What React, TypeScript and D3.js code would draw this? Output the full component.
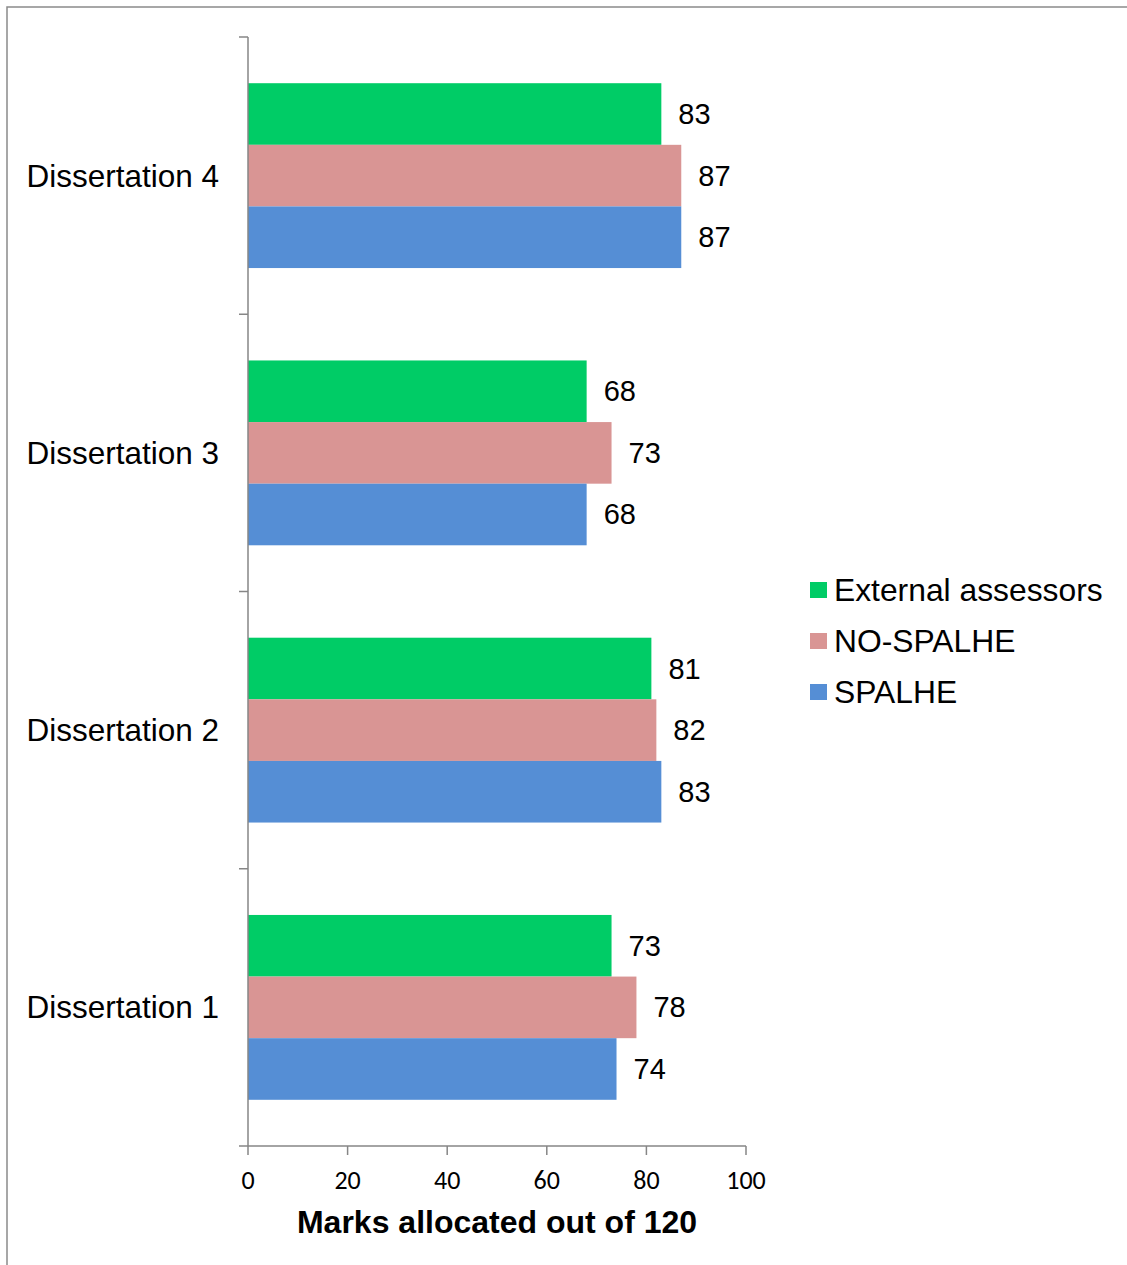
import React from "react";
import * as d3 from "d3";

const categories = ["Dissertation 4", "Dissertation 3", "Dissertation 2", "Dissertation 1"];
const seriesNames = ["External assessors", "NO-SPALHE", "SPALHE"];
const externalValues = [83, 68, 81, 73];
const noSpalheValues = [87, 73, 82, 78];
const spalheValues = [87, 68, 83, 74];
const xTicks = [0, 20, 40, 60, 80, 100];
const axisTitle = "Marks allocated out of 120";

const colors = ["#00CC66", "#D99594", "#558ED5"];

export default function App() {
  const W = 1127, H = 1265;
  const plotLeft = 248, plotRight = 746, plotTop = 37, plotBottom = 1146;
  const x = d3.scaleLinear().domain([0, 100]).range([plotLeft, plotRight]);
  const y = d3.scaleBand<string>().domain(categories).range([plotTop, plotBottom]).paddingInner(1 / 3).paddingOuter(1 / 6);
  const ySub = d3.scaleBand<string>().domain(seriesNames).range([0, y.bandwidth()]);
  const series = [externalValues, noSpalheValues, spalheValues];
  const step = y.step();
  const boundaries = d3.range(categories.length + 1).map((i) => plotTop + i * step);
  const axisColor = "#868686";
  const font = "'Liberation Sans', Arial, sans-serif";
  const tickFont = "Carlito, Lato, 'Open Sans', sans-serif";

  return (
    <svg width={W} height={H} style={{ position: "absolute", left: 0, top: 0, background: "#fff" }}>
      <rect x={7} y={7} width={W + 20} height={H + 20} fill="#fff" stroke="#8a8a8a" strokeWidth={1.5} />
      {categories.map((c, ci) =>
        series.map((vals, si) => (
          <g key={c + si}>
            <rect
              x={x(0)}
              y={(y(c) as number) + (ySub(seriesNames[si]) as number)}
              width={x(vals[ci]) - x(0)}
              height={ySub.bandwidth()}
              fill={colors[si]}
            />
            <text
              x={x(vals[ci]) + 17}
              y={(y(c) as number) + (ySub(seriesNames[si]) as number) + ySub.bandwidth() / 2}
              dominantBaseline="central"
              fontFamily={font}
              fontSize={29}
              fill="#000"
            >
              {vals[ci]}
            </text>
          </g>
        ))
      )}
      {/* y axis */}
      <line x1={plotLeft} x2={plotLeft} y1={plotTop} y2={plotBottom} stroke={axisColor} strokeWidth={1.5} />
      {boundaries.map((b, i) => (
        <line key={"yt" + i} x1={plotLeft - 9} x2={plotLeft} y1={b} y2={b} stroke={axisColor} strokeWidth={1.5} />
      ))}
      {categories.map((c) => (
        <text
          key={"cl" + c}
          x={219}
          y={(y(c) as number) + y.bandwidth() / 2}
          textAnchor="end"
          dominantBaseline="central"
          fontFamily={font}
          fontSize={31.5}
          fill="#000"
        >
          {c}
        </text>
      ))}
      {/* x axis */}
      <line x1={plotLeft} x2={plotRight} y1={plotBottom} y2={plotBottom} stroke={axisColor} strokeWidth={1.5} />
      {xTicks.map((t) => (
        <g key={"xt" + t}>
          <line x1={x(t)} x2={x(t)} y1={plotBottom} y2={plotBottom + 9} stroke={axisColor} strokeWidth={1.5} />
          <text x={x(t)} y={1189} textAnchor="middle" fontFamily={tickFont} fontSize={26} fill="#000">
            {t}
          </text>
        </g>
      ))}
      <text x={(plotLeft + plotRight) / 2} y={1233} textAnchor="middle" fontFamily={font} fontWeight="bold" fontSize={32} fill="#000">
        {axisTitle}
      </text>
      {/* legend */}
      {seriesNames.map((s, i) => (
        <g key={"lg" + s}>
          <rect x={810} y={582 + i * 51} width={17} height={16} fill={colors[i]} />
          <text x={834} y={590 + i * 51} dominantBaseline="central" fontFamily={font} fontSize={31.8} fill="#000">
            {s}
          </text>
        </g>
      ))}
    </svg>
  );
}
